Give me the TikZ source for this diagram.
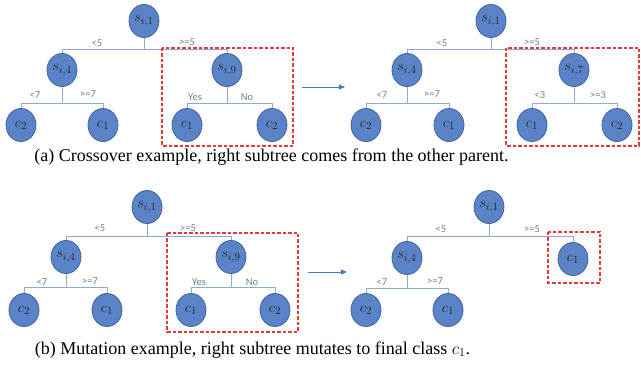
\documentclass[tikz,border=0pt]{standalone}
\usepackage{fontspec}
\setmainfont{Liberation Serif}
\newfontfamily\lblfont{Carlito}
\usetikzlibrary{arrows.meta,shapes.geometric}
\definecolor{nodefill}{HTML}{5B84C8}
\definecolor{nodeedge}{HTML}{3F629C}
\definecolor{linkcol}{HTML}{8FAAD2}
\definecolor{lblcol}{HTML}{7A7A7A}
\definecolor{boxred}{HTML}{E23A3A}
\definecolor{arrcol}{HTML}{4A78C8}
\tikzset{
  tn/.style={ellipse, draw=nodeedge, line width=0.8pt, fill=nodefill, minimum width=30pt, minimum height=33pt, inner sep=0pt, text=black!85, font=\fontsize{15}{15}\selectfont},
  link/.style={draw=linkcol, line width=1pt},
  lbl/.style={text=lblcol, font=\lblfont\fontsize{10.5}{10.5}\selectfont, inner sep=0pt},
  redbox/.style={draw=boxred, line width=1.1pt, dash pattern=on 3.5pt off 2pt},
  arr/.style={draw=arrcol, line width=0.8pt, -{Triangle[length=6pt,width=5pt]}},
  captext/.style={font=\fontsize{18}{18}\selectfont, inner sep=0pt}
}
\begin{document}
\begin{tikzpicture}[x=1pt,y=-1pt]
\useasboundingbox (0,0) rectangle (641,374);
% ---------- Tree A1 ----------
\node[tn] (a1r) at (144,21) {$s_{i,1}$};
\node[tn] (a1l) at (62,70) {$s_{i,4}$};
\node[tn] (a1m) at (227,70) {$s_{i,9}$};
\node[tn] (a1ll) at (21,125) {$c_2$};
\node[tn] (a1lr) at (103,125) {$c_1$};
\node[tn] (a1ml) at (187,125) {$c_1$};
\node[tn] (a1mr) at (272,125) {$c_2$};
\draw[link] (a1r.south) -- (a1r.south |- 0,50);
\draw[link] (a1l.north) -- (a1l.north |- 0,50) -- (a1m.north |- 0,50) -- (a1m.north);
\draw[link] (a1l.south) -- (a1l.south |- 0,104);
\draw[link] (a1ll.north) -- (a1ll.north |- 0,104) -- (a1lr.north |- 0,104) -- (a1lr.north);
\draw[link] (a1m.south) -- (a1m.south |- 0,104);
\draw[link] (a1ml.north) -- (a1ml.north |- 0,104) -- (a1mr.north |- 0,104) -- (a1mr.north);
\node[lbl] (a1t1) at (97,43) {<5};
\node[lbl] (a1t2) at (187,42) {>=5};
\node[lbl] (a1t3) at (35,95) {<7};
\node[lbl] (a1t4) at (88,94) {>=7};
\node[lbl] (a1t5) at (195,97) {Yes};
\node[lbl] (a1t6) at (247,97) {No};
\draw[redbox] (162,48) rectangle (293,146);
% arrow A
\coordinate (aa1) at (302,87);
\coordinate (aa2) at (345,87);
\draw[arr] (aa1) -- (aa2);
% ---------- Tree A2 ----------
\node[tn] (a2r) at (491,21) {$s_{i,1}$};
\node[tn] (a2l) at (407,70) {$s_{i,4}$};
\node[tn] (a2m) at (574,70) {$s_{i,7}$};
\node[tn] (a2ll) at (366,125) {$c_2$};
\node[tn] (a2lr) at (449,125) {$c_1$};
\node[tn] (a2ml) at (532,125) {$c_1$};
\node[tn] (a2mr) at (617,125) {$c_2$};
\draw[link] (a2r.south) -- (a2r.south |- 0,50);
\draw[link] (a2l.north) -- (a2l.north |- 0,50) -- (a2m.north |- 0,50) -- (a2m.north);
\draw[link] (a2l.south) -- (a2l.south |- 0,104);
\draw[link] (a2ll.north) -- (a2ll.north |- 0,104) -- (a2lr.north |- 0,104) -- (a2lr.north);
\draw[link] (a2m.south) -- (a2m.south |- 0,104);
\draw[link] (a2ml.north) -- (a2ml.north |- 0,104) -- (a2mr.north |- 0,104) -- (a2mr.north);
\node[lbl] (a2t1) at (442,43) {<5};
\node[lbl] (a2t2) at (532,42) {>=5};
\node[lbl] (a2t3) at (382,95) {<7};
\node[lbl] (a2t4) at (432,94) {>=7};
\node[lbl] (a2t5) at (540,95) {<3};
\node[lbl] (a2t6) at (598,95) {>=3};
\draw[redbox] (506,48) rectangle (639,146);
\node[captext] (capa) at (271.5,157) {(a) Crossover example, right subtree comes from the other parent.};
% ---------- Tree B1 ----------
\node[tn] (b1r) at (147,207) {$s_{i,1}$};
\node[tn] (b1l) at (66,257) {$s_{i,4}$};
\node[tn] (b1m) at (231,257) {$s_{i,9}$};
\node[tn] (b1ll) at (24,310) {$c_2$};
\node[tn] (b1lr) at (107,310) {$c_1$};
\node[tn] (b1ml) at (191,310) {$c_1$};
\node[tn] (b1mr) at (275,310) {$c_2$};
\draw[link] (b1r.south) -- (b1r.south |- 0,237);
\draw[link] (b1l.north) -- (b1l.north |- 0,237) -- (b1m.north |- 0,237) -- (b1m.north);
\draw[link] (b1l.south) -- (b1l.south |- 0,288);
\draw[link] (b1ll.north) -- (b1ll.north |- 0,288) -- (b1lr.north |- 0,288) -- (b1lr.north);
\draw[link] (b1m.south) -- (b1m.south |- 0,288);
\draw[link] (b1ml.north) -- (b1ml.north |- 0,288) -- (b1mr.north |- 0,288) -- (b1mr.north);
\node[lbl] (b1t1) at (100,228) {<5};
\node[lbl] (b1t2) at (188,228) {>=5};
\node[lbl] (b1t3) at (42,282) {<7};
\node[lbl] (b1t4) at (90,281) {>=7};
\node[lbl] (b1t5) at (199,282) {Yes};
\node[lbl] (b1t6) at (252,282) {No};
\draw[redbox] (167,233) rectangle (298,332);
% arrow B
\coordinate (ba1) at (308,272);
\coordinate (ba2) at (347,272);
\draw[arr] (ba1) -- (ba2);
% ---------- Tree B2 ----------
\node[tn] (b2r) at (489,207) {$s_{i,1}$};
\node[tn] (b2l) at (407,258) {$s_{i,4}$};
\node[tn] (b2m) at (573,259) {$c_1$};
\node[tn] (b2ll) at (366,310) {$c_2$};
\node[tn] (b2lr) at (448,310) {$c_1$};
\draw[link] (b2r.south) -- (b2r.south |- 0,237);
\draw[link] (b2l.north) -- (b2l.north |- 0,237) -- (b2m.north |- 0,237) -- (b2m.north);
\draw[link] (b2l.south) -- (b2l.south |- 0,289);
\draw[link] (b2ll.north) -- (b2ll.north |- 0,289) -- (b2lr.north |- 0,289) -- (b2lr.north);
\node[lbl] (b2t1) at (441,229) {<5};
\node[lbl] (b2t2) at (532,229) {>=5};
\node[lbl] (b2t3) at (382,282) {<7};
\node[lbl] (b2t4) at (435,281) {>=7};
\draw[redbox] (548,232) rectangle (600,283);
\node[captext] (capb) at (252.5,350) {(b) Mutation example, right subtree mutates to final class $c_1$.};
\end{tikzpicture}
\end{document}
